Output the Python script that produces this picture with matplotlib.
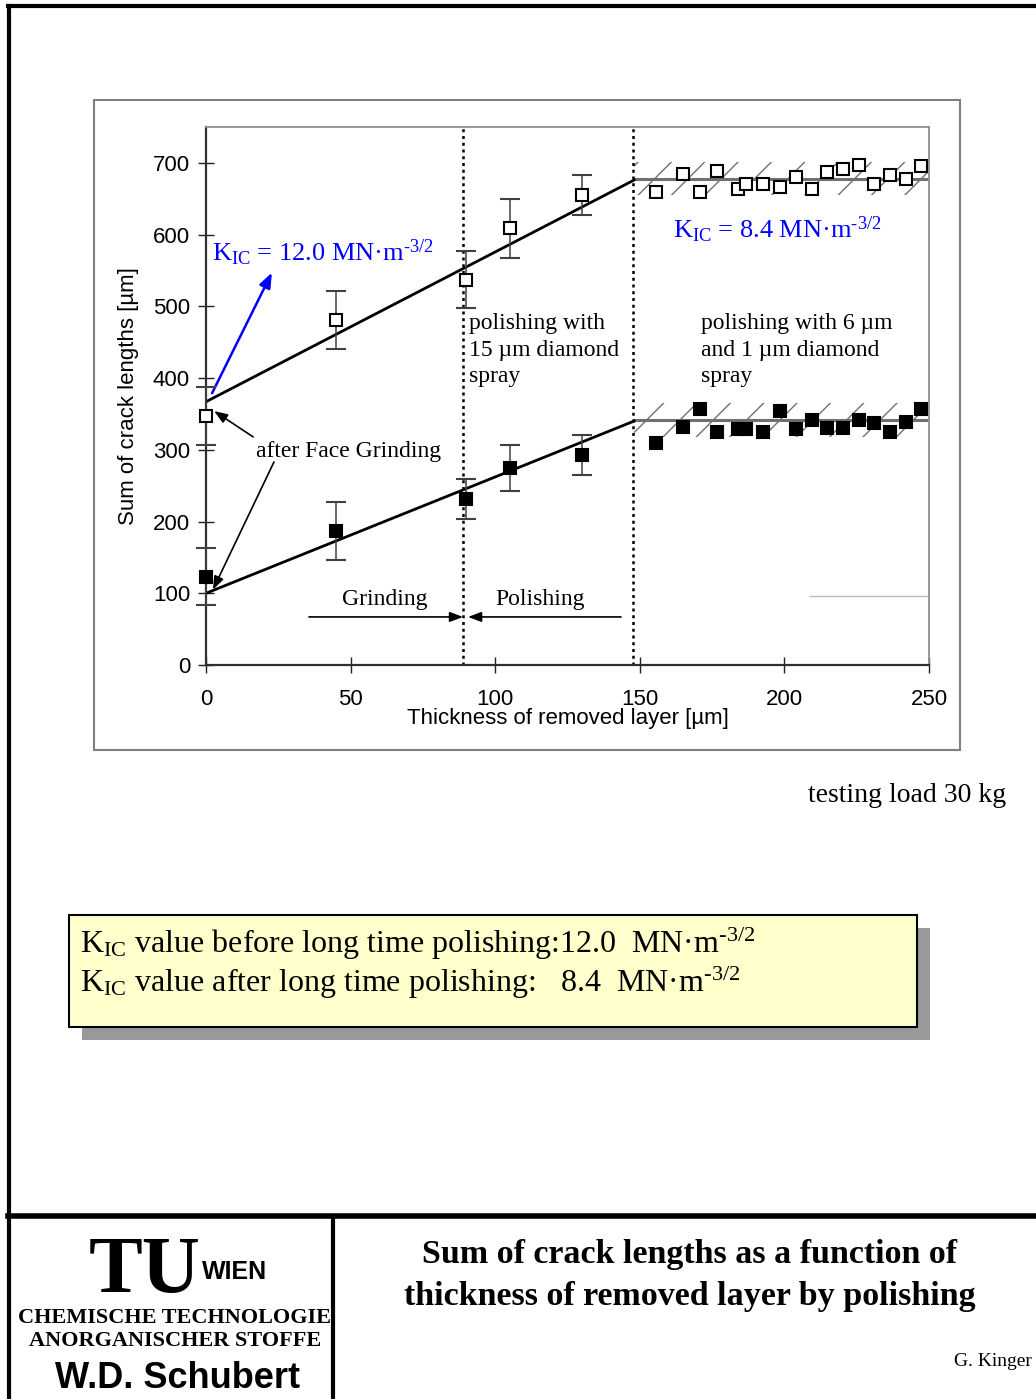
#!/usr/bin/env python3
# Sum of crack lengths vs. thickness of removed layer (slide recreation)

import matplotlib
matplotlib.use("Agg")
import matplotlib.pyplot as plt
from matplotlib.patches import Rectangle
from matplotlib.lines import Line2D

# ------------------------- data -------------------------
# open squares (upper series) with error bars, grinding/15 um polishing stage
upper_x = [0, 45, 90, 105, 130]
upper_y = [347, 481, 537, 609, 655]
upper_err = [40, 40, 40, 41, 28]

# filled squares (lower series)
lower_x = [0, 45, 90, 105, 130]
lower_y = [123, 187, 231, 274, 293]
lower_err = [40, 40, 28, 32, 28]

# long time polishing (6 um and 1 um diamond spray), no error bars
long_x = [155.5, 164.8, 170.8, 176.6, 184.0, 186.7, 192.7, 198.5, 204.0,
          209.6, 214.6, 220.1, 225.7, 231.0, 236.5, 241.9, 247.1]
long_upper = [660, 685, 660, 689, 663, 670, 671, 666, 680,
              663, 687, 691, 697, 670, 683, 678, 695]
long_lower = [310, 332, 357, 325, 329, 329, 325, 354, 329,
              342, 330, 330, 342, 337, 325, 339, 357]

# fitted lines
fit_x = [0, 148]
upper_fit = [367, 676]
lower_fit = [100, 340]

# plateau levels with scatter band
plateau_x = [148, 250]
upper_level = 678
upper_band = (655, 701)
lower_level = 341
lower_band = (318, 365)

# stage boundaries
boundaries = [89, 147.5]

x_ticks = [0, 50, 100, 150, 200, 250]
y_ticks = [0, 100, 200, 300, 400, 500, 600, 700]

# ------------------------- style -------------------------
plt.rcParams['font.family'] = ['Liberation Sans', 'DejaVu Sans']
plt.rcParams['mathtext.fontset'] = 'custom'
plt.rcParams['mathtext.rm'] = 'Liberation Serif'
plt.rcParams['mathtext.it'] = 'Liberation Serif:italic'
plt.rcParams['mathtext.bf'] = 'Liberation Serif:bold'
plt.rcParams['hatch.linewidth'] = 1.0

W, H = 1036, 1399
fig = plt.figure(figsize=(W / 100, H / 100), dpi=100)
fig.patch.set_facecolor("white")


def fx(px):
    return px / W


def fy(py):
    return 1 - py / H


SERIF = ['Liberation Serif', 'DejaVu Serif']
KIC = r"K$_{\mathrm{IC}}$"
UNIT = r"MN·m$^{\text{-3/2}}$"

# ------------------------- slide frame -------------------------
for (x0, y0, x1, y1, lw) in [(9, 6, 9, 1399, 3), (8, 6, 1036, 6, 3),
                             (8, 1216, 1036, 1216, 4), (333, 1216, 333, 1399, 3)]:
    fig.add_artist(Line2D([fx(x0), fx(x1)], [fy(y0), fy(y1)], color="black",
                          linewidth=lw, transform=fig.transFigure))

# chart area box
fig.add_artist(Rectangle((fx(94), fy(750)), fx(960) - fx(94), fy(100) - fy(750),
                         transform=fig.transFigure, facecolor="none",
                         edgecolor="#808080", linewidth=1.5))

# ------------------------- the chart -------------------------
ax = fig.add_axes([fx(206), fy(665), fx(929) - fx(206), fy(127) - fy(665)])
ax.set_xlim(0, 250)
ax.set_ylim(0, 750)

for side in ["left", "bottom"]:
    ax.spines[side].set_color("#303030")
    ax.spines[side].set_linewidth(1.6)
for side in ["top", "right"]:
    ax.spines[side].set_color("#909090")
    ax.spines[side].set_linewidth(1.3)

ax.set_xticks(x_ticks)
ax.set_yticks(y_ticks)
ax.tick_params(axis="both", direction="inout", length=11, width=1,
               color="#202020", labelsize=16)
ax.tick_params(axis="y", pad=6)
ax.tick_params(axis="x", pad=11.5)
ax.set_xlabel("Thickness of removed layer [µm]", fontsize=16, labelpad=-1)
ax.set_ylabel("Sum of crack lengths [µm]", fontsize=16, labelpad=10)

# scatter bands for long time polishing
for lo, hi, level in [(upper_band[0], upper_band[1], upper_level),
                      (lower_band[0], lower_band[1], lower_level)]:
    ax.fill_between(plateau_x, [lo, lo], [hi, hi], facecolor="none",
                    edgecolor="#707070", hatch="/", linewidth=0, zorder=1)
    ax.plot(plateau_x, [level, level], color="#707070", linewidth=2.2, zorder=2)

# stage boundaries
for b in boundaries:
    ax.plot([b, b], [0, 750], color="black", linestyle=(0, (1.2, 1.5)),
            linewidth=1.8, zorder=2)

# fitted lines
ax.plot(fit_x, upper_fit, color="black", linewidth=2, zorder=3)
ax.plot(fit_x, lower_fit, color="black", linewidth=2, zorder=3)

# measured points
for ys, errs, face in [(upper_y, upper_err, "white"), (lower_y, lower_err, "black")]:
    eb = ax.errorbar(upper_x, ys, yerr=errs, fmt="s", ms=8.5, mfc=face,
                     mec="black", mew=1.5, ecolor="#404040", elinewidth=1.1,
                     capsize=7, capthick=1.1, zorder=4)
    for art in eb.lines[0:1] + tuple(eb.lines[1]) + tuple(eb.lines[2]):
        art.set_clip_on(False)
ax.plot(long_x, long_upper, "s", ms=8.5, mfc="white", mec="black", mew=1.5,
        linestyle="none", zorder=4)
ax.plot(long_x, long_lower, "s", ms=8.5, mfc="black", mec="black", mew=1.5,
        linestyle="none", zorder=4)

# stray thin line at the lower right
ax.plot([209, 250], [96, 96], color="#bbbbbb", linewidth=1, zorder=1)

# annotations
ax.text(2.1, 575, KIC + " = 12.0 " + UNIT, color="blue",
        fontsize=19, family=SERIF, va="center", ha="left")
ax.text(161.5, 607, KIC + " = 8.4 " + UNIT, color="blue",
        fontsize=19, family=SERIF, va="center", ha="left")
ax.annotate("", xy=(22.8, 547), xytext=(2.1, 379),
            arrowprops=dict(arrowstyle="-|>,head_length=0.9,head_width=0.35",
                            color="blue", lw=1.8, shrinkA=0, shrinkB=0))

ax.text(17.3, 298, "after Face Grinding", fontsize=17, family=SERIF,
        va="center", ha="left")
for tail, head in [((16.3, 318), (2.8, 354)), ((23.5, 283), (2.4, 105))]:
    ax.annotate("", xy=head, xytext=tail,
                arrowprops=dict(arrowstyle="-|>,head_length=0.8,head_width=0.3",
                                color="black", lw=1.2, shrinkA=0, shrinkB=0))

ax.text(90.8, 439, "polishing with\n15 µm diamond\nspray", fontsize=17,
        family=SERIF, va="center", ha="left", linespacing=1.33)
ax.text(171.2, 439, "polishing with 6 µm\nand 1 µm diamond\nspray", fontsize=17,
        family=SERIF, va="center", ha="left", linespacing=1.33)

ax.text(61.9, 91, "Grinding", fontsize=17, family=SERIF, va="center", ha="center")
ax.text(115.5, 91, "Polishing", fontsize=17, family=SERIF, va="center", ha="center")
ax.annotate("", xy=(88.9, 67), xytext=(35.6, 67),
            arrowprops=dict(arrowstyle="-|>,head_length=0.8,head_width=0.3",
                            color="black", lw=1.2, shrinkA=0, shrinkB=0))
ax.annotate("", xy=(90.6, 67), xytext=(143.5, 67),
            arrowprops=dict(arrowstyle="-|>,head_length=0.8,head_width=0.3",
                            color="black", lw=1.2, shrinkA=0, shrinkB=0))

fig.text(fx(1006), fy(795), "testing load 30 kg", fontsize=20, family=SERIF,
         ha="right", va="center")

# ------------------------- summary box -------------------------
fig.add_artist(Rectangle((fx(82), fy(1040)), fx(930) - fx(82), fy(928) - fy(1040),
                         transform=fig.transFigure, facecolor="#999999",
                         edgecolor="none"))
fig.add_artist(Rectangle((fx(69), fy(1027)), fx(917) - fx(69), fy(915) - fy(1027),
                         transform=fig.transFigure, facecolor="#ffffcc",
                         edgecolor="black", linewidth=1.5))
fig.text(fx(80), fy(944),
         KIC + " value before long time polishing:12.0  " + UNIT,
         fontsize=23, family=SERIF, ha="left", va="center")
fig.text(fx(80), fy(983),
         KIC + " value after long time polishing:   8.4  " + UNIT,
         fontsize=23, family=SERIF, ha="left", va="center")

# ------------------------- footer -------------------------
fig.text(fx(145), fy(1292), "TU", fontsize=58, family=SERIF, weight="bold",
         ha="center", va="baseline")
fig.text(fx(202), fy(1279), "WIEN", fontsize=18, weight="bold",
         ha="left", va="baseline")
fig.text(fx(175), fy(1318), "CHEMISCHE TECHNOLOGIE", fontsize=16, family=SERIF,
         weight="bold", ha="center", va="center")
fig.text(fx(175), fy(1341), "ANORGANISCHER STOFFE", fontsize=16, family=SERIF,
         weight="bold", ha="center", va="center")
fig.text(fx(178), fy(1379), "W.D. Schubert", fontsize=26, weight="bold",
         ha="center", va="center")

fig.text(fx(690), fy(1254), "Sum of crack lengths as a function of", fontsize=24.5,
         family=SERIF, weight="bold", ha="center", va="center")
fig.text(fx(690), fy(1296), "thickness of removed layer by polishing", fontsize=24.5,
         family=SERIF, weight="bold", ha="center", va="center")
fig.text(fx(1032), fy(1361), "G. Kinger", fontsize=14, family=SERIF,
         ha="right", va="center")

fig.savefig("out.png", dpi=100)
